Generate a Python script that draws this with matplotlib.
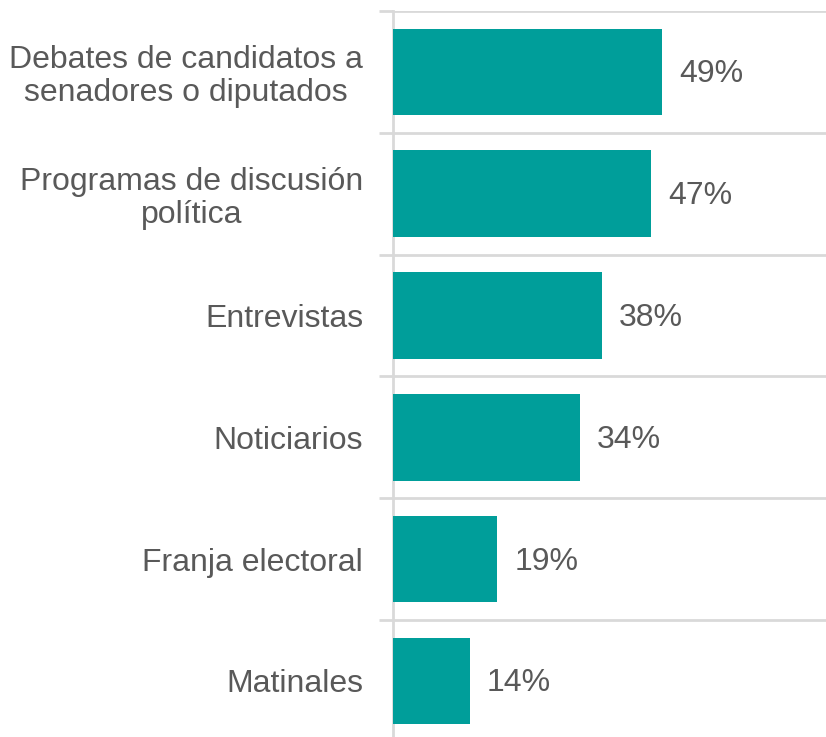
import matplotlib.pyplot as plt
import numpy as np

categories = [
    "Debates de candidatos a\nsenadores o diputados",
    "Programas de discusión\npolítica",
    "Entrevistas",
    "Noticiarios",
    "Franja electoral",
    "Matinales",
]
values = [49, 47, 38, 34, 19, 14]

bar_color = "#009E9A"
text_color = "#595959"
line_color = "#D9D9D9"

plt.rcParams["font.family"] = ["Liberation Sans", "DejaVu Sans"]

fig = plt.figure(figsize=(8.26, 7.37), dpi=100)
W, H = 826, 737
row_h = 121.8
top = 11
n = len(categories)
bottom = top + n * row_h
ax = fig.add_axes([393 / W, 1 - bottom / H, 1 - 393 / W, n * row_h / H])

y = np.arange(n)
ax.barh(y, values, height=0.71, color=bar_color, zorder=3)
ax.set_ylim(n - 0.5, -0.5)
ax.set_xlim(0, 433 / 5.49)

for yi, v in zip(y, values):
    ax.text(v + 17 / 5.49, yi + 0.02, f"{v}%", va="center", ha="left",
            fontsize=23, color=text_color)

ax.set_yticks(y)
ax.set_yticklabels(categories, fontsize=23, color=text_color,
                   multialignment="center", linespacing=1.12)
ax.tick_params(axis="y", which="major", length=0, pad=21.5)
ax.set_yticks(np.arange(-0.5, n, 1.0), minor=True)
ax.tick_params(axis="y", which="minor", length=10, width=2, color=line_color)
ax.grid(axis="y", which="minor", color=line_color, linewidth=2, zorder=0)
ax.set_xticks([])

for s in ["top", "right", "bottom"]:
    ax.spines[s].set_visible(False)
ax.spines["left"].set_color(line_color)
ax.spines["left"].set_linewidth(2)

fig.savefig("out.png", dpi=100)
